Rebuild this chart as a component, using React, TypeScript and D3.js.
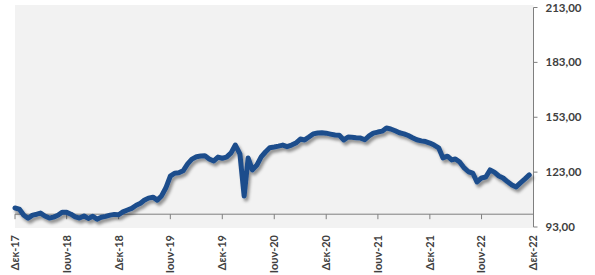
import React from 'react';
import * as d3 from 'd3';

// index values, one every half month (1st and 16th) starting Dec 2017
const values = [
  103.4, 102.8, 99.4, 97.8, 99.5, 100.0, 100.6, 99.0, 97.9, 98.4, 99.4, 101.1,
  101.0, 100.0, 98.5, 97.9, 99.0, 97.7, 98.9, 97.3, 98.3, 98.8, 99.5, 99.9,
  99.7, 101.3, 102.3, 103.2, 104.9, 106.0, 107.6, 108.8, 109.3, 107.7, 110.0, 114.3,
  120.8, 122.4, 122.6, 123.7, 127.5, 130.1, 131.4, 131.8, 131.9, 130.2, 129.1, 131.2,
  130.6, 131.2, 133.5, 137.8, 133.0, 110.0, 130.7, 124.2, 126.9, 131.3, 134.0, 136.3,
  136.7, 137.2, 137.8, 136.9, 137.8, 138.9, 141.1, 140.6, 142.2, 143.9, 144.4, 144.5,
  144.3, 143.8, 143.3, 143.2, 140.6, 142.2, 142.1, 141.8, 141.6, 140.7, 142.8, 144.3,
  144.9, 145.4, 147.1, 146.6, 145.6, 144.5, 143.9, 143.0, 141.8, 140.7, 140.1, 139.7,
  138.9, 137.8, 136.3, 130.8, 131.7, 129.7, 130.2, 128.5, 125.3, 123.2, 122.5, 117.6,
  119.8, 120.3, 124.2, 123.0, 120.9, 119.8, 117.7, 116.0, 114.9, 117.1, 119.3, 121.5,
];

const yTicks = [93, 123, 153, 183, 213];
const xLabels = [
  'Δεκ-17', 'Ιουν-18', 'Δεκ-18', 'Ιουν-19', 'Δεκ-19', 'Ιουν-20',
  'Δεκ-20', 'Ιουν-21', 'Δεκ-21', 'Ιουν-22', 'Δεκ-22',
];

const W = 595, H = 275;
const left = 15, right = 533.5, top = 7.5, bottom = 227;

const start = new Date(2017, 11, 1);
const end = new Date(2022, 11, 1);

const App = () => {
  const x = d3.scaleTime().domain([start, end]).range([left, right]);
  const y = d3.scaleLinear().domain([93, 213]).range([bottom, top]);

  const data = values.map((v, i) => ({
    date: new Date(2017, 11 + Math.floor(i / 2), i % 2 ? 16 : 1),
    value: v,
  }));

  const line = d3.line<{ date: Date; value: number }>()
    .x(d => x(d.date))
    .y(d => y(d.value));

  const fmt = d3.formatLocale({ decimal: ',', thousands: '.', grouping: [3], currency: ['', '€'] }).format('.2f');
  const xTicks = xLabels.map((_, i) => new Date(2017, 11 + i * 6, 1));
  const axisY = y(100);
  const font = 'Lato, "Open Sans", sans-serif';

  return (
    <svg width={W} height={H} style={{ position: 'absolute', left: 0, top: 0 }}>
      <defs>
        <filter id="shadow" x="-5%" y="-20%" width="110%" height="140%">
          <feDropShadow dx="2" dy="3" stdDeviation="1.8" floodColor="#000" floodOpacity="0.4" />
        </filter>
      </defs>
      <rect x={left} y={5} width={right - left} height={228 - 5} fill="#f2f2f2" />

      {/* horizontal axis at 100 */}
      <line x1={left} x2={right} y1={axisY} y2={axisY} stroke="#7f7f7f" strokeWidth={1} />
      {xTicks.map((d, i) => (
        <line key={i} x1={x(d)} x2={x(d)} y1={axisY} y2={axisY + 5} stroke="#7f7f7f" />
      ))}

      {/* right value axis */}
      <line x1={right} x2={right} y1={top} y2={bottom} stroke="#7f7f7f" strokeWidth={1} />
      {yTicks.map(t => (
        <g key={t}>
          <line x1={right} x2={right + 4} y1={y(t)} y2={y(t)} stroke="#7f7f7f" />
          <text x={right + 12} y={y(t)} dy="0.35em" fontFamily={font} fontSize={11.5}
            fontWeight={700} fill="#404040">{fmt(t)}</text>
        </g>
      ))}

      <path d={line(data) ?? ''} fill="none" stroke="#1f4e8c" strokeWidth={5}
        strokeLinejoin="round" strokeLinecap="round" filter="url(#shadow)" />

      {xTicks.map((d, i) => (
        <text key={i} transform={`translate(${x(d)},235) rotate(-90)`} dy="0.35em"
          textAnchor="end" fontFamily={font} fontSize={11} fontWeight={700} fill="#404040">
          {xLabels[i]}
        </text>
      ))}
    </svg>
  );
};

export default App;
